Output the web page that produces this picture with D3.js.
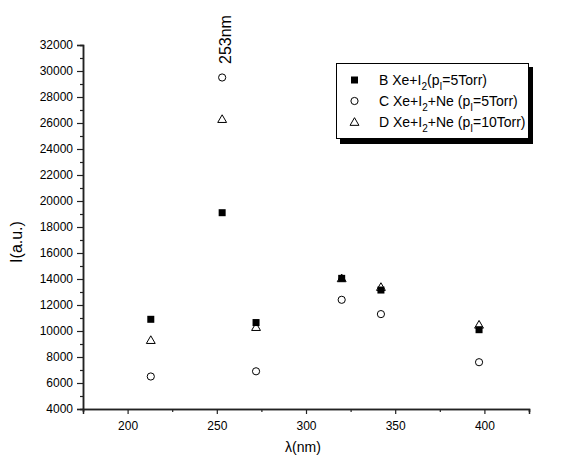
<!DOCTYPE html>
<html>
<head>
<meta charset="utf-8">
<script src="https://cdn.jsdelivr.net/npm/d3@7"></script>
<style>
  body { margin: 0; background: #fff; }
  text { font-family: "Liberation Sans", Arial, sans-serif; fill: #000; }
</style>
</head>
<body>
<div class="chart"></div>
<script>
const wavelengths = [213, 253, 272, 320, 342, 397]
const seriesB = [10900, 19100, 10650, 14050, 13150, 10100]
const seriesC = [6500, 29500, 6900, 12400, 11300, 7600]
const seriesD = [9300, 26300, 10300, 14050, 13380, 10480]
const xTicks = [200, 250, 300, 350, 400]
const yTicks = [4000, 6000, 8000, 10000, 12000, 14000, 16000, 18000, 20000, 22000, 24000, 26000, 28000, 30000, 32000]

const width = 565
const height = 457

const x = d3.scaleLinear().domain([175, 425]).range([83, 529])
const y = d3.scaleLinear().domain([4000, 32000]).range([409, 45])

const svg = d3.select('.chart')
  .append('svg')
  .attr('width', width)
  .attr('height', height)

// axes
const xAxis = svg.append('g')
  .attr('transform', 'translate(0,409)')
  .call(d3.axisBottom(x).tickValues(xTicks).tickSize(5).tickPadding(7).tickFormat(d3.format('d')))
xAxis.append('g')
  .call(d3.axisBottom(x).tickValues([175, 225, 275, 325, 375, 425]).tickSize(3).tickFormat(''))

const yAxis = svg.append('g')
  .attr('transform', 'translate(83,0)')
  .call(d3.axisLeft(y).tickValues(yTicks).tickSize(6).tickPadding(4).tickFormat(d3.format('d')))
yAxis.append('g')
  .call(d3.axisLeft(y).tickValues(d3.range(5000, 32000, 2000)).tickSize(3).tickFormat(''))

svg.selectAll('.domain').attr('stroke', '#222').attr('stroke-width', 1.5)
svg.selectAll('.tick line').attr('stroke', '#222').attr('stroke-width', 1.2)
svg.selectAll('.tick text').style('font-size', '12px').style('font-family', '"Liberation Sans", Arial, sans-serif')

// axis titles
svg.append('text')
  .attr('x', 303).attr('y', 452)
  .attr('text-anchor', 'middle')
  .style('font-size', '14px')
  .text('λ(nm)')

svg.append('text')
  .attr('transform', 'translate(22,242) rotate(-90)')
  .attr('text-anchor', 'middle')
  .style('font-size', '16px')
  .text('I(a.u.)')

// markers
const plot = svg.append('g')

plot.selectAll('.ptB')
  .data(wavelengths.map((w, i) => [w, seriesB[i]]))
  .enter()
  .append('rect')
    .attr('x', d => x(d[0]) - 3.5)
    .attr('y', d => y(d[1]) - 3.5)
    .attr('width', 7).attr('height', 7)
    .attr('fill', '#000')

plot.selectAll('.ptC')
  .data(wavelengths.map((w, i) => [w, seriesC[i]]))
  .enter()
  .append('circle')
    .attr('cx', d => x(d[0]))
    .attr('cy', d => y(d[1]))
    .attr('r', 3.6)
    .attr('fill', 'none')
    .attr('stroke', '#000')
    .attr('stroke-width', 1)

const tri = d3.symbol().type(d3.symbolTriangle).size(34)
plot.selectAll('.ptD')
  .data(wavelengths.map((w, i) => [w, seriesD[i]]))
  .enter()
  .append('path')
    .attr('d', tri)
    .attr('transform', d => `translate(${x(d[0])},${y(d[1]) + 0.8})`)
    .attr('fill', 'none')
    .attr('stroke', '#000')
    .attr('stroke-width', 1)

// peak annotation
svg.append('text')
  .attr('transform', `translate(${x(253) + 9},64) rotate(-90)`)
  .style('font-size', '16px')
  .text('253nm')

// legend
const lg = svg.append('g')
lg.append('rect').attr('x', 340).attr('y', 67).attr('width', 193).attr('height', 77).attr('fill', '#000')
lg.append('rect').attr('x', 336.5).attr('y', 63.5).attr('width', 192).attr('height', 75)
  .attr('fill', '#fff').attr('stroke', '#000').attr('stroke-width', 1)

const rows = [
  { y: 80, kind: 'B', parts: [['B Xe+I', ''], ['2', 'sub'], ['(p', ''], ['I', 'sub'], ['=5Torr)', '']] },
  { y: 101, kind: 'C', parts: [['C Xe+I', ''], ['2', 'sub'], ['+Ne (p', ''], ['I', 'sub'], ['=5Torr)', '']] },
  { y: 122, kind: 'D', parts: [['D Xe+I', ''], ['2', 'sub'], ['+Ne (p', ''], ['I', 'sub'], ['=10Torr)', '']] }
]

rows.forEach(function (r) {
  if (r.kind === 'B') {
    lg.append('rect').attr('x', 351).attr('y', r.y - 3.5).attr('width', 7).attr('height', 7).attr('fill', '#000')
  } else if (r.kind === 'C') {
    lg.append('circle').attr('cx', 354.5).attr('cy', r.y).attr('r', 3.6)
      .attr('fill', 'none').attr('stroke', '#000')
  } else {
    lg.append('path').attr('d', tri).attr('transform', `translate(354.5,${r.y + 0.8})`)
      .attr('fill', 'none').attr('stroke', '#000')
  }
  const t = lg.append('text')
    .attr('x', 379).attr('y', r.y + 5)
    .style('font-size', '14px')
  r.parts.forEach(function (p, i) {
    const sub = p[1] === 'sub'
    const prevSub = i > 0 && r.parts[i - 1][1] === 'sub'
    t.append('tspan')
      .text(p[0])
      .attr('dy', sub ? 5 : (prevSub ? -5 : 0))
      .style('font-size', sub ? '10px' : '14px')
  })
})
</script>
</body>
</html>
